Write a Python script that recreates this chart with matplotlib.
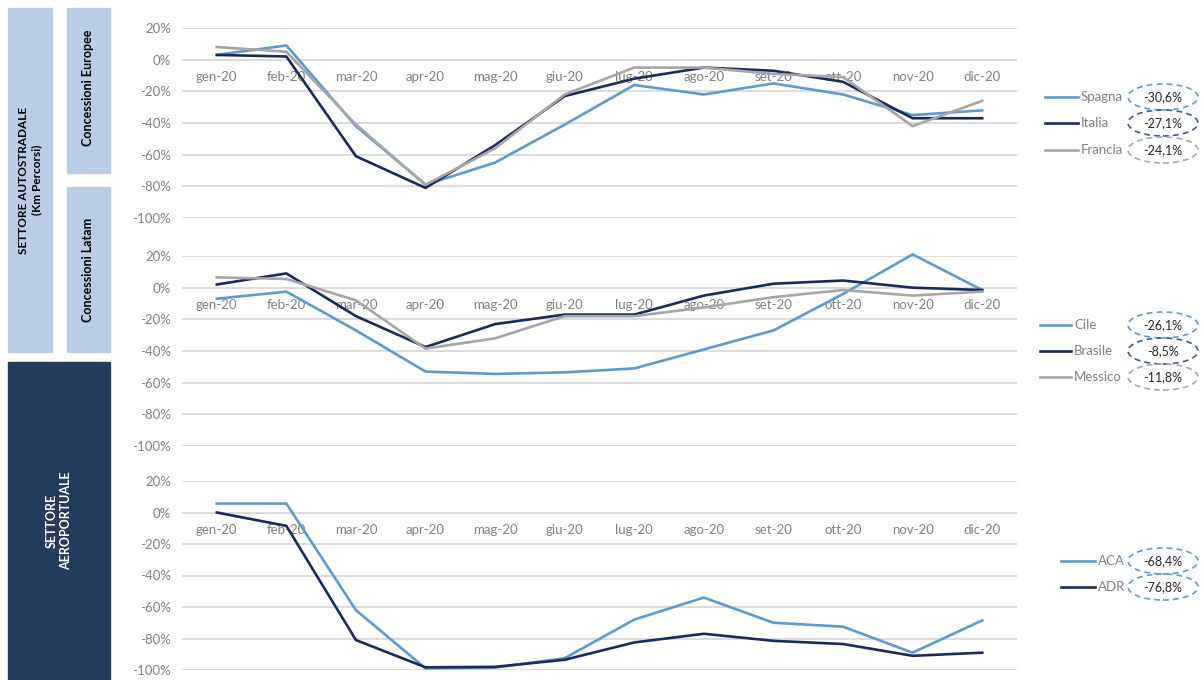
import matplotlib.pyplot as plt
from matplotlib.lines import Line2D
from matplotlib.patches import Ellipse, Rectangle

plt.rcParams['font.family'] = ['Lato', 'DejaVu Sans']

mesi = ['gen-20', 'feb-20', 'mar-20', 'apr-20', 'mag-20', 'giu-20',
        'lug-20', 'ago-20', 'set-20', 'ott-20', 'nov-20', 'dic-20']

# Concessioni Europee (var. % km percorsi)
spagna = [3, 9, -42, -79, -65, -41, -16, -22, -15, -22, -35, -32]
italia = [3, 2, -61, -81, -54, -23, -12, -5, -7, -14, -37, -37]
francia = [8, 5, -41, -79, -56, -22, -5, -5, -9, -11, -42, -26]
europa_nomi = ['Spagna', 'Italia', 'Francia']
europa_tot = ['-30,6%', '-27,1%', '-24,1%']

# Concessioni Latam
cile = [-7, -2.5, -27, -53, -54.5, -53.5, -51, -39, -27, -4, 21, -1.5]
brasile = [2, 9, -18, -37.5, -23, -17, -17, -5, 2.5, 4.5, 0, -1.5]
messico = [6.5, 5.5, -8, -38.5, -32, -18, -18, -12.5, -6, -1.5, -5, -2.5]
latam_nomi = ['Cile', 'Brasile', 'Messico']
latam_tot = ['-26,1%', '-8,5%', '-11,8%']

# Settore aeroportuale
aca = [5.7, 5.7, -62, -99, -98.5, -92.5, -68, -54, -70, -72.5, -89, -68.5]
adr = [0, -8.5, -81, -98.3, -98, -93.5, -82.5, -77, -81.5, -83.5, -91, -89]
aero_nomi = ['ACA', 'ADR']
aero_tot = ['-68,4%', '-76,8%']

azzurro = '#5b9bd5'
blu = '#1a2a5e'
grigio = '#a6a6a6'
testo = '#7f7f7f'

W, H = 1204, 680
fig = plt.figure(figsize=(W / 100, H / 100), dpi=100)


def fx(px):
    return px / W


def fy(py):
    return 1 - py / H


def pannello(top, bottom, serie, colori):
    ax = fig.add_axes([fx(182), fy(bottom), fx(1017) - fx(182), (bottom - top) / H])
    x = range(len(mesi))
    for s, c in zip(serie, colori):
        ax.plot(x, [v / 100 for v in s], color=c, lw=1.9, clip_on=False, zorder=3)
    ax.set_xlim(-0.5, len(mesi) - 0.5)
    ax.set_ylim(-1.0, 0.2)
    ax.set_yticks([0.2, 0, -0.2, -0.4, -0.6, -0.8, -1.0])
    ax.set_yticklabels(['20%', '0%', '-20%', '-40%', '-60%', '-80%', '-100%'])
    ax.set_xticks(list(x))
    ax.set_xticklabels(mesi)
    for sp in ax.spines.values():
        sp.set_visible(False)
    ax.spines['bottom'].set_position(('data', 0))
    ax.tick_params(axis='y', length=0, pad=8, labelsize=9.5, labelcolor=testo)
    ax.tick_params(axis='x', length=0, pad=8, labelsize=9.5, labelcolor=testo)
    ax.grid(axis='y', color='#d9d9d9', lw=1.3)
    ax.set_axisbelow(True)
    return ax


def legenda(righe, nomi, colori, totali, cerchi, x0, x1):
    for y, nome, c, tot, ce in zip(righe, nomi, colori, totali, cerchi):
        fig.add_artist(Line2D([fx(x0), fx(x1)], [fy(y), fy(y)], color=c, lw=1.9,
                              transform=fig.transFigure))
        fig.text(fx(x1 + 3), fy(y), nome, color=testo, fontsize=9.5,
                 ha='left', va='center')
        fig.add_artist(Ellipse((fx(1163), fy(y)), fx(70), 26 / H, fill=False,
                               ec=ce, lw=1.2, ls=(0, (3.5, 2.5)),
                               transform=fig.transFigure))
        fig.text(fx(1163), fy(y), tot, color='#262626', fontsize=9,
                 ha='center', va='center')


pannello(28, 218, [spagna, italia, francia], [azzurro, blu, grigio])
pannello(256, 446, [cile, brasile, messico], [azzurro, blu, grigio])
pannello(481, 670, [aca, adr], [azzurro, blu])

legenda([97, 123, 150], europa_nomi, [azzurro, blu, grigio], europa_tot,
        [azzurro, '#3a5a9a', grigio], 1045, 1078)
legenda([325, 351, 377], latam_nomi, [azzurro, blu, grigio], latam_tot,
        [azzurro, '#3a5a9a', grigio], 1040, 1071)
legenda([561, 587], aero_nomi, [azzurro, blu], aero_tot,
        [azzurro, azzurro], 1061, 1095)

# riquadri laterali
chiaro = '#b9cde5'
scuro = '#243c5c'


def riquadro(x0, y0, x1, y1, colore):
    fig.add_artist(Rectangle((fx(x0), fy(y1)), fx(x1 - x0), (y1 - y0) / H,
                             color=colore, transform=fig.transFigure, zorder=0))


riquadro(8, 8, 52, 352, chiaro)
riquadro(67, 8, 110, 173, chiaro)
riquadro(67, 187, 110, 352, chiaro)
riquadro(8, 362, 110, 690, scuro)

fig.text(fx(30), fy(180), 'SETTORE AUTOSTRADALE\n(Km Percorsi)', rotation=90,
         ha='center', va='center', fontsize=8.5, fontweight='bold',
         color='black', multialignment='center')
fig.text(fx(88), fy(88), 'Concessioni Europee', rotation=90, ha='center',
         va='center', fontsize=9, fontweight='bold', color='black')
fig.text(fx(88), fy(270), 'Concessioni Latam', rotation=90, ha='center',
         va='center', fontsize=9, fontweight='bold', color='black')
fig.text(fx(59), fy(521), 'SETTORE\nAEROPORTUALE', rotation=90, ha='center',
         va='center', fontsize=9, fontweight='bold', color='white',
         multialignment='center')

fig.savefig('out.png', dpi=100)
